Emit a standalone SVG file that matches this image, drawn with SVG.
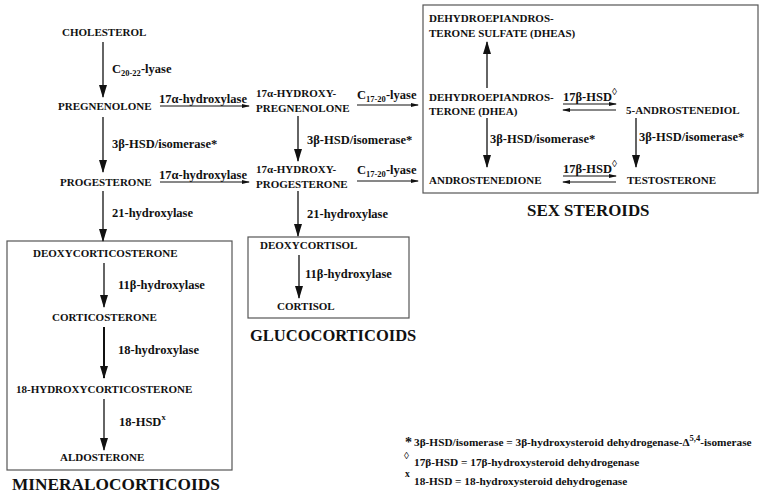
<svg xmlns="http://www.w3.org/2000/svg" width="781" height="497" viewBox="0 0 781 497" font-family="'Liberation Serif', 'Times New Roman', Times, 'DejaVu Serif', serif">
  <style>
    text { font-family: "Liberation Serif", "Times New Roman", Times, "DejaVu Serif", serif; font-weight: bold; fill: #111; }
    .node { font-size: 11px; }
    .enz { font-size: 12.5px; }
    .sub { font-size: 8.5px; }
    .dia { font-size: 10px; font-weight: normal; }
    .head { font-size: 16.5px; }
    .note { font-size: 11.3px; }
    .box { fill: none; stroke: #555; stroke-width: 1.2; }
    .v { stroke: #111; stroke-width: 1.3; fill: none; marker-end: url(#big); }
    .h { stroke: #111; stroke-width: 1; fill: none; marker-end: url(#small); }
  </style>
  <defs>
    <marker id="big" markerUnits="userSpaceOnUse" markerWidth="13" markerHeight="10" refX="12" refY="4" orient="auto">
      <path d="M0,0 L13,4 L0,8 Z" fill="#111"/>
    </marker>
    <marker id="small" markerUnits="userSpaceOnUse" markerWidth="8" markerHeight="6" refX="7" refY="3" orient="auto">
      <path d="M0,1 L8,3 L0,5 Z" fill="#111"/>
    </marker>
  </defs>
  <rect width="781" height="497" fill="#fff"/>

  <!-- group frames -->
  <rect class="box" x="7" y="241" width="225" height="229"/>
  <rect class="box" x="248" y="237" width="161" height="81"/>
  <rect class="box" x="423" y="5" width="335" height="188"/>

  <!-- main pathway nodes -->
  <g id="cholesterol"><text class="node" x="62" y="36">CHOLESTEROL</text></g>
  <g id="pregnenolone"><text class="node" x="58" y="110">PREGNENOLONE</text></g>
  <g id="progesterone"><text class="node" x="60" y="186">PROGESTERONE</text></g>
  <g id="oh-pregnenolone">
    <text class="node" x="256" y="97">17α-HYDROXY-</text>
    <text class="node" x="256" y="112">PREGNENOLONE</text>
  </g>
  <g id="oh-progesterone">
    <text class="node" x="256" y="173">17α-HYDROXY-</text>
    <text class="node" x="256" y="188">PROGESTERONE</text>
  </g>

  <!-- mineralocorticoids -->
  <g id="deoxycorticosterone"><text class="node" x="33" y="257">DEOXYCORTICOSTERONE</text></g>
  <g id="corticosterone"><text class="node" x="52" y="321">CORTICOSTERONE</text></g>
  <g id="oh-corticosterone"><text class="node" x="16" y="393">18-HYDROXYCORTICOSTERONE</text></g>
  <g id="aldosterone"><text class="node" x="60" y="461">ALDOSTERONE</text></g>

  <!-- glucocorticoids -->
  <g id="deoxycortisol"><text class="node" x="260" y="249">DEOXYCORTISOL</text></g>
  <g id="cortisol"><text class="node" x="277" y="310">CORTISOL</text></g>

  <!-- sex steroids -->
  <g id="dheas">
    <text class="node" x="429" y="22">DEHYDROEPIANDROS-</text>
    <text class="node" x="429" y="37">TERONE SULFATE (DHEAS)</text>
  </g>
  <g id="dhea">
    <text class="node" x="429" y="101">DEHYDROEPIANDROS-</text>
    <text class="node" x="429" y="115">TERONE (DHEA)</text>
  </g>
  <g id="androstenediol"><text class="node" x="626" y="114">5-ANDROSTENEDIOL</text></g>
  <g id="androstenedione"><text class="node" x="429" y="184">ANDROSTENEDIONE</text></g>
  <g id="testosterone"><text class="node" x="627" y="184">TESTOSTERONE</text></g>

  <!-- connectors -->
  <g id="connectors">
    <line class="v" x1="103" y1="42" x2="103" y2="97"/>
    <line class="v" x1="103" y1="117" x2="103" y2="172"/>
    <line class="v" x1="103" y1="191" x2="103" y2="241"/>
    <line class="v" x1="104" y1="263" x2="104" y2="307"/>
    <line class="v" x1="104" y1="327" x2="104" y2="378" style="stroke-width:2"/>
    <line class="v" x1="104" y1="399" x2="104" y2="450"/>
    <line class="v" x1="298" y1="116" x2="298" y2="161"/>
    <line class="v" x1="298" y1="191" x2="298" y2="236"/>
    <line class="v" x1="299" y1="255" x2="299" y2="298"/>
    <line class="v" x1="487" y1="88" x2="487" y2="42"/>
    <line class="v" x1="487" y1="118" x2="487" y2="167"/>
    <line class="v" x1="636" y1="118" x2="636" y2="167"/>
    <line class="h" x1="160" y1="106" x2="249" y2="106"/>
    <line class="h" x1="160" y1="182" x2="249" y2="182"/>
    <line class="h" x1="357" y1="105" x2="418" y2="105"/>
    <line class="h" x1="357" y1="181" x2="418" y2="181"/>
    <line class="h" x1="563" y1="104" x2="616" y2="104"/>
    <line class="h" x1="616" y1="110" x2="563" y2="110"/>
    <line class="h" x1="563" y1="176" x2="616" y2="176"/>
    <line class="h" x1="616" y1="182" x2="563" y2="182"/>
  </g>

  <!-- enzyme labels -->
  <g id="enzymes">
    <text class="enz" x="112" y="73">C<tspan class="sub" dy="3">20-22</tspan><tspan dy="-3">-lyase</tspan></text>
    <text class="enz" x="159" y="103">17α-hydroxylase</text>
    <text class="enz" x="112" y="148">3β-HSD/isomerase*</text>
    <text class="enz" x="159" y="179">17α-hydroxylase</text>
    <text class="enz" x="112" y="217">21-hydroxylase</text>
    <text class="enz" x="118" y="289">11β-hydroxylase</text>
    <text class="enz" x="118" y="354">18-hydroxylase</text>
    <text class="enz" x="119" y="426">18-HSD<tspan class="sub" dy="-6">x</tspan></text>
    <text class="enz" x="357" y="99">C<tspan class="sub" dy="3">17-20</tspan><tspan dy="-3">-lyase</tspan></text>
    <text class="enz" x="307" y="144">3β-HSD/isomerase*</text>
    <text class="enz" x="357" y="174">C<tspan class="sub" dy="3">17-20</tspan><tspan dy="-3">-lyase</tspan></text>
    <text class="enz" x="307" y="218">21-hydroxylase</text>
    <text class="enz" x="305" y="278">11β-hydroxylase</text>
    <text class="enz" x="563" y="101">17β-HSD<tspan class="dia" dy="-6">◊</tspan></text>
    <text class="enz" x="490" y="143">3β-HSD/isomerase*</text>
    <text class="enz" x="639" y="141">3β-HSD/isomerase*</text>
    <text class="enz" x="563" y="173">17β-HSD<tspan class="dia" dy="-6">◊</tspan></text>
  </g>

  <!-- group headings -->
  <text class="head" x="12" y="490" style="font-size:17.3px">MINERALOCORTICOIDS</text>
  <text class="head" x="250" y="341">GLUCOCORTICOIDS</text>
  <text class="head" x="527" y="216" style="font-size:16.9px">SEX STEROIDS</text>

  <!-- footnotes -->
  <g id="legend">
    <text class="note" x="405" y="447" style="font-size:14px">*</text>
    <text class="note" x="414" y="446">3β-HSD/isomerase = 3β-hydroxysteroid dehydrogenase-Δ<tspan class="sub" dy="-5">5,4</tspan><tspan dy="5">-isomerase</tspan></text>
    <text class="dia" x="404" y="459">◊</text>
    <text class="note" x="414" y="466">17β-HSD = 17β-hydroxysteroid dehydrogenase</text>
    <text class="note" x="405" y="477" style="font-size:9.5px">x</text>
    <text class="note" x="414" y="485">18-HSD = 18-hydroxysteroid dehydrogenase</text>
  </g>
</svg>
